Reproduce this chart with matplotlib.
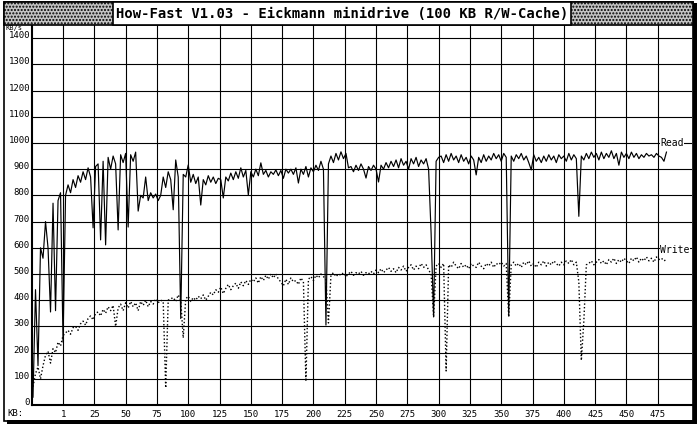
import numpy as np
import matplotlib.pyplot as plt
from matplotlib.patches import Rectangle

# How-Fast benchmark printout, read / write transfer rate over block size

title = "How-Fast V1.03 - Eickmann minidrive (100 KB R/W-Cache)"

x_tick_pos = np.arange(0, 476, 25)
x_labels = ["1", "25", "50", "75", "100", "125", "150", "175", "200", "225",
            "250", "275", "300", "325", "350", "375", "400", "425", "450", "475"]
y_ticks = np.arange(0, 1401, 100)

# sample positions in KB (first cell left of "1" holds the sub-1KB blocks)
kb = np.arange(-24, 484, 2)

read_kbs = [
    30, 440, 150, 600, 560, 700, 600, 355, 770, 360, 780, 810, 240,
    800, 840, 810, 860, 830, 875, 850, 890, 860, 905, 870, 676, 910,
    920, 630, 930, 611, 945, 900, 950, 920, 668, 955, 925, 960, 679,
    955, 930, 965, 740, 800, 790, 870, 780, 810, 790, 805, 780,
    800, 870, 830, 890, 860, 745, 935, 870, 330, 880,
    870, 916, 850, 880, 845, 870, 763, 860, 840, 875, 850, 870, 845,
    865, 860, 790, 870, 855, 885, 860, 890, 865, 905, 870, 895, 801,
    890, 870, 900, 875, 924, 880, 895, 870, 890, 880, 897, 875, 895,
    865, 900, 885, 900, 880, 905, 847, 900, 880, 910, 870, 905, 890,
    915, 895, 930, 900, 305, 920, 950, 925, 960, 935, 966, 940, 960,
    905,
    910, 890, 915, 895, 920, 900, 866, 910, 895, 915, 900, 851, 915,
    900, 925, 905, 930, 910, 935, 905, 940, 915, 930, 900, 940, 920,
    945, 910, 935, 920, 940, 900, 656, 336, 930, 945,
    950, 925, 955, 930, 960, 935, 950, 925, 955, 930, 945, 920, 950,
    935, 878, 945, 925, 955, 930, 950, 935, 960, 940, 955, 930, 960,
    945, 340, 950, 930, 955, 940, 960, 935, 950, 925, 897, 955, 930,
    945, 925,
    950, 930, 955, 935, 950, 925, 955, 940, 950, 930, 960, 935, 955,
    940, 720, 950, 935, 960, 940, 965, 945, 960, 935, 965, 940, 960,
    945, 970, 940, 960, 915, 965, 945, 960, 940, 965, 945, 960, 940,
    955, 945, 960, 950, 955, 945, 960, 950, 945, 930, 965,
]

write_kbs = [
    70, 120, 145, 100, 150, 190, 205, 160, 215, 200, 240, 225, 265,
    275, 285, 270, 295, 300, 285, 310, 320, 305, 330, 340, 325, 350,
    355, 340, 365, 350, 375, 360, 380, 300, 370, 385, 360, 390, 370,
    395, 375, 390, 360, 395, 380, 400, 375, 395, 385, 405, 390,
    400, 395, 65, 400, 405, 410, 395, 420, 400, 256, 405,
    415, 395, 410, 400, 415, 405, 420, 400, 415, 430, 420, 440, 430,
    450, 425, 445, 460, 440, 455, 465, 445, 470, 455, 475, 460,
    480, 470, 485, 465, 490, 475, 495, 480, 500, 485, 500, 480, 470,
    455, 480, 460, 485, 470, 475, 460, 485, 470, 90, 480, 490, 475,
    495, 485, 500, 490, 480, 313, 495, 505, 490, 500, 495, 505, 490,
    500,
    510, 495, 505, 500, 510, 495, 505, 500, 510, 500, 515, 505, 520,
    505, 515, 525, 510, 520, 505, 525, 515, 530, 510, 525, 535, 515,
    530, 520, 540, 525, 535, 515, 500, 336, 530, 540,
    525, 540, 130, 535, 525, 545, 530, 520, 540, 525, 535, 520, 540,
    530, 525, 545, 530, 520, 540, 530, 545, 525, 540, 535, 545, 530,
    540, 336, 535, 545, 530, 540, 525, 545, 535, 550, 530, 540, 525,
    545, 535,
    550, 530, 545, 535, 550, 540, 530, 545, 535, 550, 540, 555, 535,
    545, 470, 170, 320, 535, 540, 550, 535, 545, 555, 540, 550, 535,
    555, 545, 560, 540, 555, 545, 560, 550, 540, 560, 550, 565, 545,
    560, 550, 565, 550, 560, 545, 565, 555, 560, 550, 555,
]


def px(x, y):
    # figure fraction from pixel position (top-left origin)
    return x / 700, 1 - y / 426


fig = plt.figure(figsize=(7, 4.26), dpi=100)
fig.patch.set_facecolor("white")

# outer frame with the heavy "shadow" on the right and bottom
fig.patches.append(Rectangle(px(4, 421), 689 / 700, 419 / 426, transform=fig.transFigure,
                             fill=False, ec="black", lw=1.2))
fig.patches.append(Rectangle(px(693, 424), 4 / 700, 421 / 426, transform=fig.transFigure,
                             fc="black", ec="none"))
fig.patches.append(Rectangle(px(7, 424), 690 / 700, 4 / 426, transform=fig.transFigure,
                             fc="black", ec="none"))

# title band: stippled grey with a white box in the middle
fig.patches.append(Rectangle(px(4, 25), 689 / 700, 23 / 426, transform=fig.transFigure,
                             fc="#c4c4c4", ec="black", lw=1.2, hatch="....."))
fig.patches.append(Rectangle(px(113, 25), 458 / 700, 23 / 426, transform=fig.transFigure,
                             fc="white", ec="black", lw=1.2))
fig.text(*px(342, 14), title, ha="center", va="center",
         family="DejaVu Sans Mono", fontsize=10, weight="bold")

ax = fig.add_axes([32 / 700, 1 - 405 / 426, 660 / 700, 380 / 426])
ax.set_xlim(-24.8, 502.4)
ax.set_ylim(0, 1450)

ax.plot(kb, read_kbs, color="black", lw=0.85, zorder=3)
ax.plot(kb, write_kbs, color="black", lw=1.0, ls=(0, (1, 1.6)), zorder=3)

ax.text(477, 1000, "Read", ha="left", va="center", family="DejaVu Sans Mono",
        fontsize=7, zorder=4, bbox=dict(fc="white", ec="none", pad=0.3))
ax.text(477, 592, "Write", ha="left", va="center", family="DejaVu Sans Mono",
        fontsize=7, zorder=4, bbox=dict(fc="white", ec="none", pad=0.3))

ax.set_xticks(x_tick_pos)
ax.set_xticklabels(x_labels)
ax.set_yticks(y_ticks)
ax.set_yticklabels([str(v) for v in y_ticks])
for t in ax.get_yticklabels():
    t.set_verticalalignment("baseline")
ax.tick_params(length=0, labelsize=6.5, colors="black")
ax.tick_params(axis="x", pad=3.5)
ax.tick_params(axis="y", pad=1.5)
for t in ax.get_xticklabels() + ax.get_yticklabels():
    t.set_family("DejaVu Sans Mono")

ax.grid(True, color="black", lw=0.8)
ax.set_axisbelow(True)
for s in ["top", "right"]:
    ax.spines[s].set_visible(False)
for s in ["left", "bottom"]:
    ax.spines[s].set_linewidth(1.5)

fig.text(*px(7, 413), "KB:", ha="left", va="center", family="DejaVu Sans Mono", fontsize=6.5)
fig.text(*px(6, 31), "KB/s", ha="left", va="bottom", family="DejaVu Sans Mono",
         fontsize=5, zorder=5)

fig.savefig("out.png", dpi=100)
